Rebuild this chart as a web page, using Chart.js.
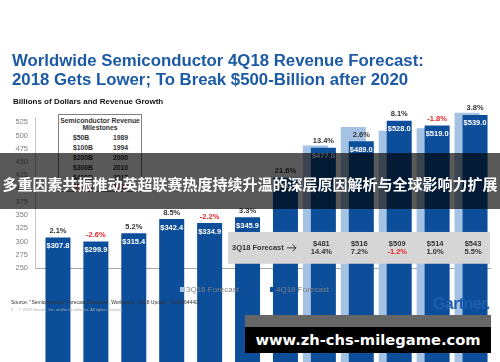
<!DOCTYPE html>
<html>
<head>
<meta charset="utf-8">
<script src="https://cdn.jsdelivr.net/npm/chart.js@4"></script>
<style>
  body { margin: 0; background: #fff; }
  #wrap { position: relative; width: 500px; height: 362px; overflow: hidden; font-family: "Liberation Sans", Arial, sans-serif; }
  #chart { position: absolute; left: 0; top: 0; }
  .abs { position: absolute; white-space: nowrap; }
  #title { left: 12px; top: 52px; font-size: 16.8px; line-height: 18.5px; font-weight: bold; color: #1c5aa6; }
  #sub { left: 13px; top: 96.5px; font-size: 8px; line-height: 10px; font-weight: bold; color: #111; }
  #miles { left: 58px; top: 114px; width: 82px; height: 76px; border: 1px solid #808080; background: #fff; font-size: 6.8px; font-weight: bold; color: #333; }
  #miles .hd { position: absolute; left: 0; width: 82px; text-align: center; line-height: 8px; }
  #miles .r { position: absolute; line-height: 8px; }
  .leg { top: 285px; font-size: 8px; line-height: 10px; color: #7f7f7f; }
  .sq { display: inline-block; width: 5px; height: 5px; margin-right: 1px; vertical-align: 0px; }
  #src { left: 11px; top: 299px; font-size: 5px; line-height: 6px; color: #333; }
  #copy { left: 11px; top: 307px; font-size: 4px; line-height: 5px; color: #aaa; }
  #logo { left: 433px; top: 294px; font-size: 16px; line-height: 20px; font-weight: bold; color: #1d5fae; letter-spacing: -0.6px; }
  #band { left: 0; top: 153px; width: 500px; height: 56px; background: rgba(0,0,0,0.65); }
  #bandtxt { left: 0; top: 174px; width: 500px; text-align: center; font-family: "Noto Sans CJK SC", sans-serif; font-weight: bold; font-size: 15px; line-height: 20px; color: #fff; }
  #wmgray { left: 245px; top: 315px; width: 246px; height: 12px; background: #666; }
  #wm { left: 245px; top: 327px; width: 246px; height: 26px; background: #000; color: #fff; text-align: center; font-family: "DejaVu Sans", sans-serif; font-weight: bold; font-size: 14.7px; line-height: 26px; }
</style>
</head>
<body>
<div id="wrap">
  <canvas id="chart" width="500" height="362"></canvas>
  <div class="abs" id="title">Worldwide Semiconductor 4Q18 Revenue Forecast:<br>2018 Gets Lower; To Break $500-Billion after 2020</div>
  <div class="abs" id="sub">Billions of Dollars and Revenue Growth</div>
  <div class="abs" id="miles">
    <div class="hd" style="top:2px">Semiconductor Revenue</div>
    <div class="hd" style="top:9px">Milestones</div>
    <div class="r" style="left:14px;top:19px">$50B</div><div class="r" style="left:54px;top:19px">1989</div>
    <div class="r" style="left:14px;top:29px">$100B</div><div class="r" style="left:54px;top:29px">1994</div>
    <div class="r" style="left:14px;top:39px">$200B</div><div class="r" style="left:54px;top:39px">2000</div>
    <div class="r" style="left:14px;top:49px">$300B</div><div class="r" style="left:54px;top:49px">2010</div>
    <div class="r" style="left:14px;top:59px">$400B</div><div class="r" style="left:54px;top:59px">2017</div>
    <div class="r" style="left:14px;top:68px;color:#d8262a">$500B</div><div class="r" style="left:54px;top:68px;color:#d8262a">2020</div>
  </div>
  <div class="abs leg" style="left:180px"><span class="sq" style="background:#a4c2e3"></span>3Q18 Forecast</div>
  <div class="abs leg" style="left:270px"><span class="sq" style="background:#0d4e9b"></span>4Q18 Forecast</div>
  <div class="abs" id="src">Source: "Semiconductor Forecast Database, Worldwide, 4Q18 Update" (G00364440)</div>
  <div class="abs" id="copy">3&nbsp;&nbsp;&nbsp;&nbsp;&nbsp;© 2018 Gartner, Inc. and/or its affiliates. All rights reserved.</div>
  <div class="abs" id="logo">Gartner.</div>
  <div class="abs" id="band"></div>
  <div class="abs" id="bandtxt">多重因素共振推动英超联赛热度持续升温的深层原因解析与全球影响力扩展</div>
  <div class="abs" id="wmgray"></div>
  <div class="abs" id="wm">www.zh-chs-milegame.com</div>
</div>
<script>
// data
let anios = ['2011', '2012', '2013', '2014', '2015', '2016', '2017', '2018', '2019', '2020', '2021', '2022'];
let pronostico4Q = [307.8, 299.9, 315.4, 342.4, 334.9, 345.9, 420.4, 477.0, 489.0, 528.0, 519.0, 539.0];
let crecimiento4Q = [2.1, -2.6, 5.2, 8.5, -2.2, 3.3, 21.6, 13.4, 2.6, 8.1, -1.8, 3.8];
let pronostico3Q = [null, null, null, null, null, null, null, 481, 516, 509, 514, 543];
let crecimiento3Q = [null, null, null, null, null, null, null, 14.4, 7.2, -1.2, 1.0, 5.5];
let ticksY = [250, 275, 300, 325, 350, 375, 400, 425, 450, 475, 500, 525];

let azulClaro = '#a4c2e3';
let azulOscuro = '#0d4e9b';
let rojo = '#e3262b';
let fuente = '"Liberation Sans", Arial, sans-serif';

// the 3Q18 bars sit left and behind the 4Q18 bars
let capas = {
    id: 'capas',
    beforeDatasetDraw(chart, args) {
        if (args.index === 0) return false;
        if (args.index === 1) chart.getDatasetMeta(0).controller.draw();
    }
};

let etiquetas = {
    id: 'etiquetas',
    afterDatasetsDraw(chart) {
        let c = chart.ctx;
        let x = chart.scales.x;
        let y = chart.scales.y;

        // grey 3Q18 forecast strip
        let izq = x.getPixelForValue(5) - 15.5;
        let arriba = y.getPixelForValue(318);
        let abajo = y.getPixelForValue(258);
        c.save();
        c.fillStyle = '#d6d6d6';
        c.fillRect(izq, arriba, chart.chartArea.right - izq, abajo - arriba);
        c.font = 'bold 7.5px ' + fuente;
        c.fillStyle = '#333';
        c.textBaseline = 'middle';
        c.textAlign = 'left';
        let medio = (arriba + abajo) / 2;
        c.fillText('3Q18 Forecast', izq + 4, medio);
        c.strokeStyle = '#333';
        c.lineWidth = 1;
        c.beginPath();
        c.moveTo(izq + 59, medio); c.lineTo(izq + 68, medio);
        c.moveTo(izq + 64.5, medio - 3.5); c.lineTo(izq + 68, medio); c.lineTo(izq + 64.5, medio + 3.5);
        c.stroke();
        c.textAlign = 'center';
        pronostico3Q.forEach((v, i) => {
            if (v === null) return;
            let px = x.getPixelForValue(i) + 2;
            c.fillStyle = '#333';
            c.fillText('$' + v, px, medio - 4);
            c.fillStyle = crecimiento3Q[i] < 0 ? rojo : '#333';
            c.fillText(crecimiento3Q[i].toFixed(1) + '%', px, medio + 4.5);
        });

        // growth above, value inside the 4Q18 bars
        let meta = chart.getDatasetMeta(1);
        meta.data.forEach((barra, i) => {
            c.font = 'bold 7.5px ' + fuente;
            c.textAlign = 'center';
            c.fillStyle = crecimiento4Q[i] < 0 ? rojo : '#333';
            c.fillText(crecimiento4Q[i].toFixed(1) + '%', barra.x, barra.y - 6.5);
            c.fillStyle = '#fff';
            c.fillText('$' + pronostico4Q[i].toFixed(1), barra.x, barra.y + 8.5);
        });
        c.restore();
    }
};

let datos = {
    labels: anios,
    datasets: [
        {
            label: '3Q18 Forecast',
            data: pronostico3Q,
            backgroundColor: azulClaro,
            categoryPercentage: 0.422,
            barPercentage: 3.125,
            clip: false,
        },
        {
            label: '4Q18 Forecast',
            data: pronostico4Q,
            backgroundColor: azulOscuro,
            categoryPercentage: 0.422,
            barPercentage: 3.125,
            clip: false,
        }
    ]
};

let opciones = {
    responsive: false,
    animation: false,
    devicePixelRatio: 1,
    layout: { padding: { left: 0, right: 10, top: 117, bottom: 74 } },
    plugins: {
        legend: { display: false },
        tooltip: { enabled: false },
    },
    scales: {
        x: {
            grid: { display: false, drawTicks: false },
            border: { display: true, color: '#a6a6a6', width: 1 },
            ticks: { color: '#7f7f7f', font: { size: 7.5, family: fuente }, padding: 5, maxRotation: 0 },
            afterFit: s => { s.height = 20; },
        },
        y: {
            min: 250,
            max: 535,
            grid: { display: false, drawTicks: false },
            border: { display: true, color: '#c4c4c4', width: 1 },
            ticks: { color: '#7f7f7f', font: { size: 7.5, family: fuente }, padding: 7 },
            afterBuildTicks: s => { s.ticks = ticksY.map(v => ({ value: v })); },
            afterFit: s => { s.width = 35; },
        }
    }
};

let ctx = document.getElementById('chart');

let miGrafica = new Chart(ctx, {
    type: 'bar',
    data: datos,
    options: opciones,
    plugins: [capas, etiquetas]
});
</script>
</body>
</html>
